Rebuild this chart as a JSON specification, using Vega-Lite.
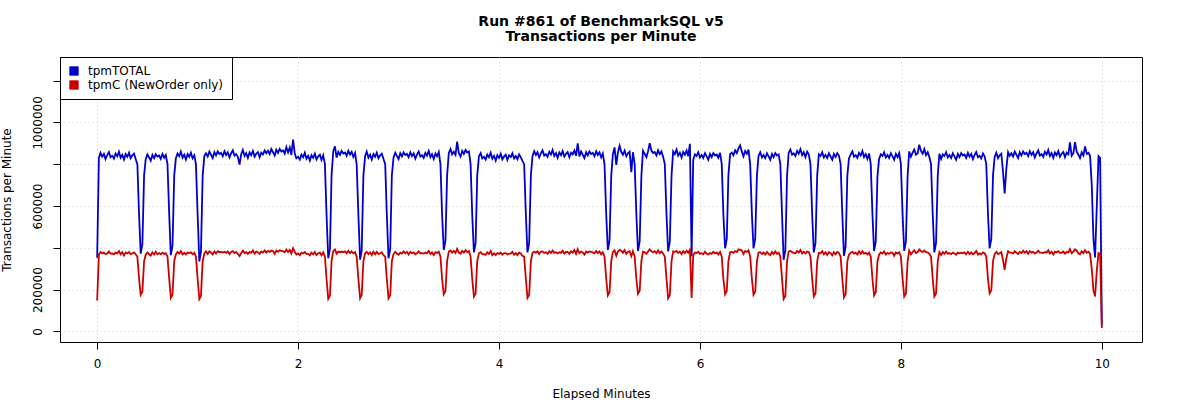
{
  "$schema": "https://vega.github.io/schema/vega-lite/v6.json",
  "width": 1082,
  "height": 285,
  "autosize": "none",
  "padding": {"left": 60, "top": 57, "right": 58, "bottom": 58},
  "background": "white",
  "title": {
    "text": ["Run #861 of BenchmarkSQL v5", "Transactions per Minute"],
    "font": "DejaVu Sans",
    "fontSize": 14,
    "fontWeight": "bold",
    "color": "black",
    "anchor": "middle",
    "lineHeight": 15,
    "offset": 13
  },
  "data": {
    "values": [
      {"t":0,"a":352000,"c":148000},{"t":0.017,"a":830000,"c":368000},{"t":0.033,"a":854000,"c":380000},{"t":0.05,"a":836000,"c":374000},{"t":0.067,"a":849000,"c":377000},{"t":0.083,"a":824000,"c":370000},{"t":0.1,"a":843000,"c":372000},{"t":0.117,"a":858000,"c":382000},{"t":0.133,"a":833000,"c":372000},{"t":0.15,"a":840000,"c":373000},
      {"t":0.167,"a":827000,"c":369000},{"t":0.183,"a":851000,"c":377000},{"t":0.2,"a":838000,"c":373000},{"t":0.217,"a":860000,"c":385000},{"t":0.233,"a":831000,"c":369000},{"t":0.25,"a":845000,"c":379000},{"t":0.267,"a":822000,"c":363000},{"t":0.283,"a":848000,"c":378000},{"t":0.3,"a":835000,"c":373000},{"t":0.317,"a":855000,"c":380000},
      {"t":0.333,"a":828000,"c":370000},{"t":0.35,"a":842000,"c":373000},{"t":0.367,"a":850000,"c":378000},{"t":0.383,"a":825000,"c":369000},{"t":0.4,"a":800000,"c":358000},{"t":0.417,"a":560000,"c":252000},{"t":0.433,"a":372000,"c":175000},{"t":0.45,"a":417000,"c":190000},{"t":0.467,"a":745000,"c":336000},{"t":0.483,"a":824000,"c":366000},
      {"t":0.5,"a":847000,"c":378000},{"t":0.517,"a":832000,"c":369000},{"t":0.533,"a":816000,"c":363000},{"t":0.55,"a":844000,"c":378000},{"t":0.567,"a":829000,"c":368000},{"t":0.583,"a":848000,"c":381000},{"t":0.6,"a":836000,"c":369000},{"t":0.617,"a":841000,"c":375000},{"t":0.633,"a":825000,"c":369000},{"t":0.65,"a":849000,"c":377000},
      {"t":0.667,"a":831000,"c":371000},{"t":0.683,"a":844000,"c":374000},{"t":0.7,"a":800000,"c":358000},{"t":0.717,"a":560000,"c":252000},{"t":0.733,"a":365000,"c":160000},{"t":0.75,"a":410000,"c":175000},{"t":0.767,"a":745000,"c":336000},{"t":0.783,"a":827000,"c":368000},{"t":0.8,"a":851000,"c":380000},{"t":0.817,"a":838000,"c":372000},
      {"t":0.833,"a":860000,"c":384000},{"t":0.85,"a":831000,"c":368000},{"t":0.867,"a":845000,"c":376000},{"t":0.883,"a":822000,"c":368000},{"t":0.9,"a":848000,"c":377000},{"t":0.917,"a":835000,"c":375000},{"t":0.933,"a":855000,"c":378000},{"t":0.95,"a":828000,"c":369000},{"t":0.967,"a":842000,"c":376000},{"t":0.983,"a":800000,"c":358000},
      {"t":1,"a":560000,"c":252000},{"t":1.017,"a":335000,"c":155000},{"t":1.033,"a":380000,"c":170000},{"t":1.05,"a":745000,"c":336000},{"t":1.067,"a":840000,"c":373000},{"t":1.083,"a":852000,"c":383000},{"t":1.1,"a":837000,"c":370000},{"t":1.117,"a":860000,"c":383000},{"t":1.133,"a":845000,"c":378000},{"t":1.15,"a":829000,"c":368000},
      {"t":1.167,"a":857000,"c":383000},{"t":1.183,"a":842000,"c":373000},{"t":1.2,"a":861000,"c":384000},{"t":1.217,"a":849000,"c":380000},{"t":1.233,"a":854000,"c":380000},{"t":1.25,"a":838000,"c":377000},{"t":1.267,"a":862000,"c":381000},{"t":1.283,"a":844000,"c":376000},{"t":1.3,"a":857000,"c":383000},{"t":1.317,"a":832000,"c":370000},
      {"t":1.333,"a":851000,"c":380000},{"t":1.35,"a":866000,"c":384000},{"t":1.367,"a":841000,"c":375000},{"t":1.383,"a":848000,"c":380000},{"t":1.4,"a":835000,"c":371000},{"t":1.417,"a":798000,"c":360000},{"t":1.433,"a":846000,"c":374000},{"t":1.45,"a":868000,"c":387000},{"t":1.467,"a":839000,"c":375000},{"t":1.483,"a":853000,"c":379000},
      {"t":1.5,"a":830000,"c":371000},{"t":1.517,"a":856000,"c":380000},{"t":1.533,"a":843000,"c":376000},{"t":1.55,"a":863000,"c":387000},{"t":1.567,"a":836000,"c":372000},{"t":1.583,"a":850000,"c":382000},{"t":1.6,"a":858000,"c":379000},{"t":1.617,"a":833000,"c":371000},{"t":1.633,"a":855000,"c":382000},{"t":1.65,"a":847000,"c":377000},
      {"t":1.667,"a":865000,"c":387000},{"t":1.683,"a":852000,"c":377000},{"t":1.7,"a":864000,"c":385000},{"t":1.717,"a":849000,"c":380000},{"t":1.733,"a":872000,"c":387000},{"t":1.75,"a":857000,"c":385000},{"t":1.767,"a":841000,"c":371000},{"t":1.783,"a":869000,"c":387000},{"t":1.8,"a":854000,"c":381000},{"t":1.817,"a":873000,"c":388000},
      {"t":1.833,"a":861000,"c":384000},{"t":1.85,"a":866000,"c":384000},{"t":1.867,"a":850000,"c":379000},{"t":1.883,"a":882000,"c":391000},{"t":1.9,"a":856000,"c":380000},{"t":1.917,"a":880000,"c":390000},{"t":1.933,"a":844000,"c":373000},{"t":1.95,"a":918000,"c":398000},{"t":1.967,"a":851000,"c":380000},{"t":1.983,"a":828000,"c":368000},
      {"t":2,"a":835000,"c":373000},{"t":2.017,"a":822000,"c":364000},{"t":2.033,"a":846000,"c":377000},{"t":2.05,"a":833000,"c":373000},{"t":2.067,"a":855000,"c":380000},{"t":2.083,"a":826000,"c":371000},{"t":2.1,"a":840000,"c":371000},{"t":2.117,"a":817000,"c":364000},{"t":2.133,"a":843000,"c":377000},{"t":2.15,"a":830000,"c":369000},
      {"t":2.167,"a":850000,"c":380000},{"t":2.183,"a":823000,"c":365000},{"t":2.2,"a":837000,"c":373000},{"t":2.217,"a":845000,"c":378000},{"t":2.233,"a":820000,"c":364000},{"t":2.25,"a":842000,"c":378000},{"t":2.267,"a":800000,"c":358000},{"t":2.283,"a":560000,"c":252000},{"t":2.3,"a":350000,"c":156000},{"t":2.317,"a":395000,"c":171000},
      {"t":2.333,"a":745000,"c":336000},{"t":2.35,"a":862000,"c":385000},{"t":2.367,"a":885000,"c":392000},{"t":2.383,"a":831000,"c":372000},{"t":2.4,"a":859000,"c":382000},{"t":2.417,"a":844000,"c":379000},{"t":2.433,"a":863000,"c":382000},{"t":2.45,"a":851000,"c":379000},{"t":2.467,"a":856000,"c":383000},{"t":2.483,"a":840000,"c":374000},
      {"t":2.5,"a":864000,"c":386000},{"t":2.517,"a":846000,"c":375000},{"t":2.533,"a":859000,"c":383000},{"t":2.55,"a":834000,"c":374000},{"t":2.567,"a":853000,"c":379000},{"t":2.583,"a":800000,"c":358000},{"t":2.6,"a":560000,"c":252000},{"t":2.617,"a":343000,"c":159000},{"t":2.633,"a":388000,"c":174000},{"t":2.65,"a":745000,"c":336000},
      {"t":2.667,"a":838000,"c":374000},{"t":2.683,"a":860000,"c":381000},{"t":2.7,"a":831000,"c":370000},{"t":2.717,"a":845000,"c":378000},{"t":2.733,"a":822000,"c":365000},{"t":2.75,"a":848000,"c":381000},{"t":2.767,"a":835000,"c":369000},{"t":2.783,"a":855000,"c":381000},{"t":2.8,"a":828000,"c":370000},{"t":2.817,"a":842000,"c":374000},
      {"t":2.833,"a":850000,"c":379000},{"t":2.85,"a":825000,"c":365000},{"t":2.867,"a":800000,"c":358000},{"t":2.883,"a":560000,"c":252000},{"t":2.9,"a":350000,"c":158000},{"t":2.917,"a":395000,"c":173000},{"t":2.933,"a":745000,"c":336000},{"t":2.95,"a":832000,"c":370000},{"t":2.967,"a":855000,"c":381000},{"t":2.983,"a":840000,"c":373000},
      {"t":3,"a":824000,"c":367000},{"t":3.017,"a":852000,"c":377000},{"t":3.033,"a":837000,"c":372000},{"t":3.05,"a":856000,"c":383000},{"t":3.067,"a":844000,"c":374000},{"t":3.083,"a":849000,"c":381000},{"t":3.1,"a":833000,"c":368000},{"t":3.117,"a":857000,"c":381000},{"t":3.133,"a":839000,"c":374000},{"t":3.15,"a":852000,"c":378000},
      {"t":3.167,"a":827000,"c":369000},{"t":3.183,"a":846000,"c":374000},{"t":3.2,"a":861000,"c":383000},{"t":3.217,"a":836000,"c":374000},{"t":3.233,"a":843000,"c":374000},{"t":3.25,"a":830000,"c":372000},{"t":3.267,"a":854000,"c":377000},{"t":3.283,"a":841000,"c":374000},{"t":3.3,"a":863000,"c":385000},{"t":3.317,"a":834000,"c":370000},
      {"t":3.333,"a":848000,"c":378000},{"t":3.35,"a":825000,"c":365000},{"t":3.367,"a":851000,"c":379000},{"t":3.383,"a":838000,"c":375000},{"t":3.4,"a":858000,"c":381000},{"t":3.417,"a":800000,"c":358000},{"t":3.433,"a":560000,"c":252000},{"t":3.45,"a":390000,"c":178000},{"t":3.467,"a":435000,"c":193000},{"t":3.483,"a":745000,"c":336000},
      {"t":3.5,"a":854000,"c":382000},{"t":3.517,"a":872000,"c":387000},{"t":3.533,"a":847000,"c":377000},{"t":3.55,"a":859000,"c":385000},{"t":3.567,"a":844000,"c":375000},{"t":3.583,"a":908000,"c":395000},{"t":3.6,"a":852000,"c":377000},{"t":3.617,"a":836000,"c":372000},{"t":3.633,"a":864000,"c":386000},{"t":3.65,"a":849000,"c":377000},
      {"t":3.667,"a":868000,"c":388000},{"t":3.683,"a":856000,"c":379000},{"t":3.7,"a":861000,"c":384000},{"t":3.717,"a":800000,"c":358000},{"t":3.733,"a":560000,"c":252000},{"t":3.75,"a":378000,"c":167000},{"t":3.767,"a":423000,"c":182000},{"t":3.783,"a":745000,"c":336000},{"t":3.8,"a":838000,"c":374000},{"t":3.817,"a":853000,"c":379000},
      {"t":3.833,"a":828000,"c":370000},{"t":3.85,"a":835000,"c":370000},{"t":3.867,"a":822000,"c":366000},{"t":3.883,"a":846000,"c":379000},{"t":3.9,"a":833000,"c":370000},{"t":3.917,"a":855000,"c":384000},{"t":3.933,"a":826000,"c":365000},{"t":3.95,"a":840000,"c":374000},{"t":3.967,"a":817000,"c":365000},{"t":3.983,"a":843000,"c":375000},
      {"t":4,"a":830000,"c":371000},{"t":4.017,"a":850000,"c":377000},{"t":4.033,"a":823000,"c":367000},{"t":4.05,"a":837000,"c":375000},{"t":4.067,"a":845000,"c":375000},{"t":4.083,"a":820000,"c":368000},{"t":4.1,"a":842000,"c":372000},{"t":4.117,"a":834000,"c":372000},{"t":4.133,"a":852000,"c":381000},{"t":4.15,"a":827000,"c":367000},
      {"t":4.167,"a":839000,"c":375000},{"t":4.183,"a":824000,"c":365000},{"t":4.2,"a":847000,"c":377000},{"t":4.217,"a":832000,"c":373000},{"t":4.233,"a":816000,"c":362000},{"t":4.25,"a":800000,"c":358000},{"t":4.267,"a":560000,"c":252000},{"t":4.283,"a":378000,"c":160000},{"t":4.3,"a":423000,"c":175000},{"t":4.317,"a":745000,"c":336000},
      {"t":4.333,"a":838000,"c":375000},{"t":4.35,"a":862000,"c":382000},{"t":4.367,"a":844000,"c":376000},{"t":4.383,"a":857000,"c":384000},{"t":4.4,"a":832000,"c":370000},{"t":4.417,"a":851000,"c":382000},{"t":4.433,"a":866000,"c":383000},{"t":4.45,"a":841000,"c":375000},{"t":4.467,"a":848000,"c":379000},{"t":4.483,"a":835000,"c":371000},
      {"t":4.5,"a":859000,"c":384000},{"t":4.517,"a":846000,"c":375000},{"t":4.533,"a":868000,"c":387000},{"t":4.55,"a":839000,"c":376000},{"t":4.567,"a":853000,"c":379000},{"t":4.583,"a":830000,"c":373000},{"t":4.6,"a":856000,"c":379000},{"t":4.617,"a":843000,"c":376000},{"t":4.633,"a":863000,"c":386000},{"t":4.65,"a":836000,"c":372000},
      {"t":4.667,"a":850000,"c":380000},{"t":4.683,"a":858000,"c":380000},{"t":4.7,"a":833000,"c":371000},{"t":4.717,"a":855000,"c":383000},{"t":4.733,"a":847000,"c":377000},{"t":4.75,"a":865000,"c":389000},{"t":4.767,"a":840000,"c":371000},{"t":4.783,"a":900000,"c":393000},{"t":4.8,"a":837000,"c":374000},{"t":4.817,"a":860000,"c":382000},
      {"t":4.833,"a":845000,"c":378000},{"t":4.85,"a":829000,"c":367000},{"t":4.867,"a":857000,"c":382000},{"t":4.883,"a":842000,"c":377000},{"t":4.9,"a":861000,"c":383000},{"t":4.917,"a":849000,"c":381000},{"t":4.933,"a":854000,"c":378000},{"t":4.95,"a":838000,"c":374000},{"t":4.967,"a":862000,"c":385000},{"t":4.983,"a":844000,"c":375000},
      {"t":5,"a":857000,"c":383000},{"t":5.017,"a":832000,"c":369000},{"t":5.033,"a":851000,"c":379000},{"t":5.05,"a":800000,"c":358000},{"t":5.067,"a":560000,"c":252000},{"t":5.083,"a":390000,"c":172000},{"t":5.1,"a":435000,"c":187000},{"t":5.117,"a":745000,"c":336000},{"t":5.133,"a":848000,"c":379000},{"t":5.15,"a":880000,"c":388000},
      {"t":5.167,"a":797000,"c":362000},{"t":5.183,"a":855000,"c":382000},{"t":5.2,"a":888000,"c":390000},{"t":5.217,"a":858000,"c":386000},{"t":5.233,"a":845000,"c":376000},{"t":5.25,"a":865000,"c":389000},{"t":5.267,"a":838000,"c":371000},{"t":5.283,"a":852000,"c":380000},{"t":5.3,"a":860000,"c":384000},{"t":5.317,"a":762000,"c":360000},
      {"t":5.333,"a":857000,"c":384000},{"t":5.35,"a":800000,"c":358000},{"t":5.367,"a":560000,"c":252000},{"t":5.383,"a":385000,"c":180000},{"t":5.4,"a":430000,"c":195000},{"t":5.417,"a":745000,"c":336000},{"t":5.433,"a":864000,"c":381000},{"t":5.45,"a":849000,"c":378000},{"t":5.467,"a":833000,"c":371000},{"t":5.483,"a":861000,"c":382000},
      {"t":5.5,"a":900000,"c":392000},{"t":5.517,"a":865000,"c":383000},{"t":5.533,"a":853000,"c":379000},{"t":5.55,"a":858000,"c":384000},{"t":5.567,"a":842000,"c":374000},{"t":5.583,"a":866000,"c":388000},{"t":5.6,"a":848000,"c":374000},{"t":5.617,"a":861000,"c":383000},{"t":5.633,"a":836000,"c":373000},{"t":5.65,"a":800000,"c":358000},
      {"t":5.667,"a":560000,"c":252000},{"t":5.683,"a":383000,"c":158000},{"t":5.7,"a":428000,"c":173000},{"t":5.717,"a":745000,"c":336000},{"t":5.733,"a":861000,"c":383000},{"t":5.75,"a":848000,"c":381000},{"t":5.767,"a":870000,"c":385000},{"t":5.783,"a":841000,"c":375000},{"t":5.8,"a":855000,"c":382000},{"t":5.817,"a":832000,"c":370000},
      {"t":5.833,"a":858000,"c":384000},{"t":5.85,"a":845000,"c":375000},{"t":5.867,"a":865000,"c":386000},{"t":5.883,"a":838000,"c":376000},{"t":5.9,"a":897000,"c":390000},{"t":5.917,"a":360000,"c":160000},{"t":5.933,"a":820000,"c":365000},{"t":5.95,"a":847000,"c":377000},{"t":5.967,"a":839000,"c":375000},{"t":5.983,"a":857000,"c":381000},
      {"t":6,"a":832000,"c":371000},{"t":6.017,"a":844000,"c":374000},{"t":6.033,"a":829000,"c":369000},{"t":6.05,"a":852000,"c":381000},{"t":6.067,"a":837000,"c":372000},{"t":6.083,"a":821000,"c":368000},{"t":6.1,"a":849000,"c":375000},{"t":6.117,"a":834000,"c":371000},{"t":6.133,"a":853000,"c":381000},{"t":6.15,"a":841000,"c":373000},
      {"t":6.167,"a":846000,"c":378000},{"t":6.183,"a":830000,"c":368000},{"t":6.2,"a":854000,"c":380000},{"t":6.217,"a":800000,"c":358000},{"t":6.233,"a":560000,"c":252000},{"t":6.25,"a":398000,"c":178000},{"t":6.267,"a":443000,"c":193000},{"t":6.283,"a":745000,"c":336000},{"t":6.3,"a":848000,"c":379000},{"t":6.317,"a":855000,"c":380000},
      {"t":6.333,"a":842000,"c":376000},{"t":6.35,"a":866000,"c":384000},{"t":6.367,"a":853000,"c":380000},{"t":6.383,"a":875000,"c":392000},{"t":6.4,"a":890000,"c":391000},{"t":6.417,"a":860000,"c":386000},{"t":6.433,"a":837000,"c":370000},{"t":6.45,"a":863000,"c":385000},{"t":6.467,"a":850000,"c":380000},{"t":6.483,"a":870000,"c":387000},
      {"t":6.5,"a":800000,"c":358000},{"t":6.517,"a":560000,"c":252000},{"t":6.533,"a":398000,"c":175000},{"t":6.55,"a":443000,"c":190000},{"t":6.567,"a":745000,"c":336000},{"t":6.583,"a":839000,"c":377000},{"t":6.6,"a":857000,"c":379000},{"t":6.617,"a":832000,"c":370000},{"t":6.633,"a":844000,"c":377000},{"t":6.65,"a":829000,"c":368000},
      {"t":6.667,"a":852000,"c":380000},{"t":6.683,"a":837000,"c":371000},{"t":6.7,"a":821000,"c":365000},{"t":6.717,"a":849000,"c":380000},{"t":6.733,"a":834000,"c":370000},{"t":6.75,"a":853000,"c":383000},{"t":6.767,"a":841000,"c":371000},{"t":6.783,"a":846000,"c":377000},{"t":6.8,"a":800000,"c":358000},{"t":6.817,"a":560000,"c":252000},
      {"t":6.833,"a":343000,"c":155000},{"t":6.85,"a":388000,"c":170000},{"t":6.867,"a":745000,"c":336000},{"t":6.883,"a":855000,"c":382000},{"t":6.9,"a":870000,"c":386000},{"t":6.917,"a":845000,"c":379000},{"t":6.933,"a":852000,"c":376000},{"t":6.95,"a":839000,"c":373000},{"t":6.967,"a":863000,"c":385000},{"t":6.983,"a":850000,"c":377000},
      {"t":7,"a":872000,"c":389000},{"t":7.017,"a":843000,"c":373000},{"t":7.033,"a":857000,"c":381000},{"t":7.05,"a":834000,"c":373000},{"t":7.067,"a":860000,"c":382000},{"t":7.083,"a":847000,"c":380000},{"t":7.1,"a":800000,"c":358000},{"t":7.117,"a":560000,"c":252000},{"t":7.133,"a":378000,"c":167000},{"t":7.15,"a":423000,"c":182000},
      {"t":7.167,"a":745000,"c":336000},{"t":7.183,"a":847000,"c":375000},{"t":7.2,"a":839000,"c":374000},{"t":7.217,"a":857000,"c":384000},{"t":7.233,"a":832000,"c":369000},{"t":7.25,"a":844000,"c":379000},{"t":7.267,"a":829000,"c":366000},{"t":7.283,"a":852000,"c":379000},{"t":7.3,"a":837000,"c":374000},{"t":7.317,"a":821000,"c":364000},
      {"t":7.333,"a":849000,"c":379000},{"t":7.35,"a":834000,"c":369000},{"t":7.367,"a":853000,"c":380000},{"t":7.383,"a":841000,"c":376000},{"t":7.4,"a":800000,"c":358000},{"t":7.417,"a":560000,"c":252000},{"t":7.433,"a":362000,"c":163000},{"t":7.45,"a":407000,"c":178000},{"t":7.467,"a":745000,"c":336000},{"t":7.483,"a":827000,"c":367000},
      {"t":7.5,"a":846000,"c":377000},{"t":7.517,"a":861000,"c":381000},{"t":7.533,"a":836000,"c":372000},{"t":7.55,"a":843000,"c":377000},{"t":7.567,"a":830000,"c":368000},{"t":7.583,"a":854000,"c":383000},{"t":7.6,"a":841000,"c":371000},{"t":7.617,"a":863000,"c":384000},{"t":7.633,"a":834000,"c":372000},{"t":7.65,"a":848000,"c":376000},
      {"t":7.667,"a":825000,"c":368000},{"t":7.683,"a":851000,"c":377000},{"t":7.7,"a":800000,"c":358000},{"t":7.717,"a":560000,"c":252000},{"t":7.733,"a":385000,"c":172000},{"t":7.75,"a":430000,"c":187000},{"t":7.767,"a":745000,"c":336000},{"t":7.783,"a":825000,"c":367000},{"t":7.8,"a":847000,"c":378000},{"t":7.817,"a":839000,"c":373000},
      {"t":7.833,"a":857000,"c":383000},{"t":7.85,"a":832000,"c":368000},{"t":7.867,"a":844000,"c":376000},{"t":7.883,"a":829000,"c":371000},{"t":7.9,"a":852000,"c":378000},{"t":7.917,"a":837000,"c":376000},{"t":7.933,"a":821000,"c":362000},{"t":7.95,"a":849000,"c":378000},{"t":7.967,"a":834000,"c":372000},{"t":7.983,"a":853000,"c":379000},
      {"t":8,"a":800000,"c":358000},{"t":8.017,"a":560000,"c":252000},{"t":8.033,"a":385000,"c":167000},{"t":8.05,"a":430000,"c":182000},{"t":8.067,"a":745000,"c":336000},{"t":8.083,"a":861000,"c":386000},{"t":8.1,"a":836000,"c":369000},{"t":8.117,"a":855000,"c":380000},{"t":8.133,"a":870000,"c":388000},{"t":8.15,"a":845000,"c":375000},
      {"t":8.167,"a":852000,"c":380000},{"t":8.183,"a":893000,"c":392000},{"t":8.2,"a":863000,"c":384000},{"t":8.217,"a":850000,"c":380000},{"t":8.233,"a":872000,"c":387000},{"t":8.25,"a":843000,"c":378000},{"t":8.267,"a":857000,"c":378000},{"t":8.283,"a":834000,"c":371000},{"t":8.3,"a":800000,"c":358000},{"t":8.317,"a":560000,"c":252000},
      {"t":8.333,"a":378000,"c":167000},{"t":8.35,"a":423000,"c":182000},{"t":8.367,"a":745000,"c":336000},{"t":8.383,"a":850000,"c":380000},{"t":8.4,"a":825000,"c":366000},{"t":8.417,"a":847000,"c":380000},{"t":8.433,"a":839000,"c":371000},{"t":8.45,"a":857000,"c":382000},{"t":8.467,"a":832000,"c":371000},{"t":8.483,"a":844000,"c":375000},
      {"t":8.5,"a":829000,"c":370000},{"t":8.517,"a":852000,"c":377000},{"t":8.533,"a":837000,"c":373000},{"t":8.55,"a":821000,"c":367000},{"t":8.567,"a":849000,"c":377000},{"t":8.583,"a":834000,"c":374000},{"t":8.6,"a":853000,"c":377000},{"t":8.617,"a":841000,"c":374000},{"t":8.633,"a":846000,"c":378000},{"t":8.65,"a":830000,"c":369000},
      {"t":8.667,"a":854000,"c":381000},{"t":8.683,"a":836000,"c":370000},{"t":8.7,"a":849000,"c":378000},{"t":8.717,"a":824000,"c":369000},{"t":8.733,"a":843000,"c":374000},{"t":8.75,"a":858000,"c":385000},{"t":8.767,"a":833000,"c":368000},{"t":8.783,"a":840000,"c":374000},{"t":8.8,"a":827000,"c":369000},{"t":8.817,"a":851000,"c":378000},
      {"t":8.833,"a":838000,"c":374000},{"t":8.85,"a":800000,"c":358000},{"t":8.867,"a":560000,"c":252000},{"t":8.883,"a":398000,"c":182000},{"t":8.9,"a":443000,"c":197000},{"t":8.917,"a":745000,"c":336000},{"t":8.933,"a":835000,"c":369000},{"t":8.95,"a":855000,"c":381000},{"t":8.967,"a":828000,"c":370000},{"t":8.983,"a":842000,"c":374000},
      {"t":9,"a":850000,"c":379000},{"t":9.017,"a":760000,"c":340000},{"t":9.033,"a":660000,"c":295000},{"t":9.05,"a":780000,"c":350000},{"t":9.067,"a":857000,"c":384000},{"t":9.083,"a":840000,"c":377000},{"t":9.1,"a":852000,"c":377000},{"t":9.117,"a":837000,"c":373000},{"t":9.133,"a":860000,"c":384000},{"t":9.15,"a":845000,"c":376000},
      {"t":9.167,"a":829000,"c":370000},{"t":9.183,"a":857000,"c":380000},{"t":9.2,"a":842000,"c":375000},{"t":9.217,"a":861000,"c":386000},{"t":9.233,"a":849000,"c":377000},{"t":9.25,"a":854000,"c":384000},{"t":9.267,"a":838000,"c":371000},{"t":9.283,"a":862000,"c":384000},{"t":9.3,"a":844000,"c":377000},{"t":9.317,"a":857000,"c":381000},
      {"t":9.333,"a":832000,"c":372000},{"t":9.35,"a":851000,"c":377000},{"t":9.367,"a":866000,"c":386000},{"t":9.383,"a":841000,"c":377000},{"t":9.4,"a":848000,"c":377000},{"t":9.417,"a":835000,"c":375000},{"t":9.433,"a":859000,"c":380000},{"t":9.45,"a":846000,"c":377000},{"t":9.467,"a":868000,"c":388000},{"t":9.483,"a":839000,"c":373000},
      {"t":9.5,"a":853000,"c":381000},{"t":9.517,"a":830000,"c":368000},{"t":9.533,"a":856000,"c":382000},{"t":9.55,"a":843000,"c":378000},{"t":9.567,"a":863000,"c":384000},{"t":9.583,"a":836000,"c":376000},{"t":9.6,"a":850000,"c":376000},{"t":9.617,"a":858000,"c":382000},{"t":9.633,"a":833000,"c":372000},{"t":9.65,"a":855000,"c":380000},
      {"t":9.667,"a":847000,"c":379000},{"t":9.683,"a":904000,"c":394000},{"t":9.7,"a":840000,"c":374000},{"t":9.717,"a":852000,"c":382000},{"t":9.733,"a":905000,"c":393000},{"t":9.75,"a":860000,"c":386000},{"t":9.767,"a":845000,"c":374000},{"t":9.783,"a":829000,"c":369000},{"t":9.8,"a":857000,"c":383000},{"t":9.817,"a":842000,"c":374000},
      {"t":9.833,"a":885000,"c":388000},{"t":9.85,"a":849000,"c":376000},{"t":9.867,"a":854000,"c":381000},{"t":9.883,"a":840000,"c":372000},{"t":9.9,"a":700000,"c":300000},{"t":9.917,"a":440000,"c":195000},{"t":9.933,"a":354000,"c":167000},{"t":9.95,"a":600000,"c":290000},{"t":9.967,"a":838000,"c":375000},{"t":9.983,"a":830000,"c":370000},
      {"t":10,"a":30000,"c":16000}
    ]
  },
  "transform": [{"fold": ["a", "c"], "as": ["series", "tpm"]}],
  "mark": {"type": "line", "strokeWidth": 1.8},
  "encoding": {
    "x": {
      "field": "t",
      "type": "quantitative",
      "scale": {"domain": [-0.37, 10.4], "nice": false, "zero": false},
      "axis": {
        "values": [0, 2, 4, 6, 8, 10],
        "title": "Elapsed Minutes",
        "labelPadding": 9,
        "titlePadding": 19,
        "labelFlush": false
      }
    },
    "y": {
      "field": "tpm",
      "type": "quantitative",
      "scale": {"domain": [-50500, 1312500], "nice": false, "zero": false},
      "axis": {
        "values": [0, 200000, 400000, 600000, 800000, 1000000, 1200000],
        "format": "d",
        "labelExpr": "indexof([400000, 800000, 1200000], datum.value) >= 0 ? '' : datum.label",
        "labelAngle": -90,
        "labelAlign": "center",
        "labelBaseline": "bottom",
        "labelOverlap": false,
        "labelFlush": false,
        "labelPadding": 9,
        "title": "Transactions per Minute",
        "titlePadding": 18
      }
    },
    "color": {
      "field": "series",
      "type": "nominal",
      "scale": {"domain": ["a", "c"], "range": ["#0000CD", "#CD0000"]},
      "legend": {
        "title": null,
        "orient": "top-left",
        "offset": 0,
        "padding": 8,
        "rowPadding": 2,
        "strokeColor": "black",
        "fillColor": "white",
        "cornerRadius": 0,
        "symbolType": "square",
        "symbolSize": 72,
        "symbolStrokeColor": "black",
        "symbolStrokeWidth": 0.8,
        "labelFont": "DejaVu Sans",
        "labelFontSize": 12,
        "labelColor": "black",
        "labelOffset": 8,
        "labelExpr": "datum.value == 'a' ? 'tpmTOTAL' : 'tpmC (NewOrder only)'",
        "encode": {
          "symbols": {
            "update": {
              "fill": {"scale": "color", "field": "value"},
              "stroke": {"value": "black"},
              "strokeWidth": {"value": 0.8}
            }
          }
        }
      }
    }
  },
  "config": {
    "font": "DejaVu Sans",
    "view": {"stroke": "black", "strokeWidth": 1},
    "axis": {
      "domain": false,
      "ticks": true,
      "tickColor": "black",
      "tickSize": 7,
      "tickWidth": 1,
      "labelColor": "black",
      "labelFont": "DejaVu Sans",
      "labelFontSize": 12,
      "titleColor": "black",
      "titleFont": "DejaVu Sans",
      "titleFontSize": 12,
      "titleFontWeight": "normal",
      "grid": true,
      "gridColor": "#d3d3d3",
      "gridDash": [1, 3],
      "gridWidth": 1
    }
  }
}
